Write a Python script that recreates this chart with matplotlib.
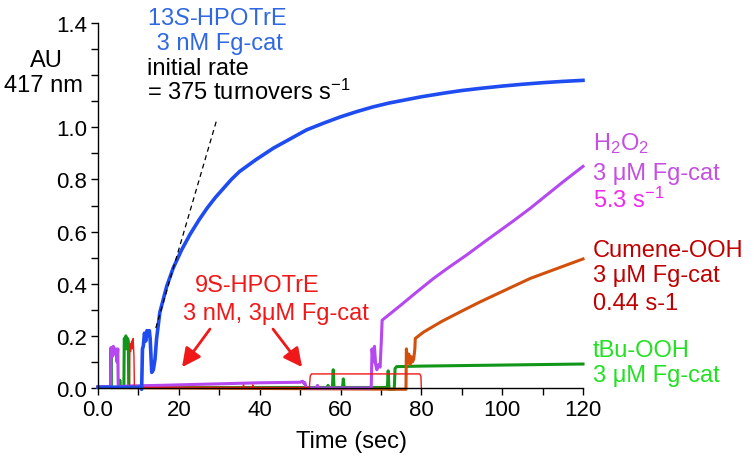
#!/usr/bin/env python
import matplotlib
matplotlib.use('Agg')
import matplotlib.pyplot as plt
from matplotlib.ticker import MultipleLocator

plt.rcParams['font.family'] = ['Liberation Sans', 'DejaVu Sans']
plt.rcParams['mathtext.fontset'] = 'custom'
plt.rcParams['mathtext.rm'] = 'Liberation Sans'
plt.rcParams['mathtext.it'] = 'Liberation Sans:italic'
plt.rcParams['mathtext.bf'] = 'Liberation Sans:bold'

# 13S-HPOTrE, 3 nM Fg-cat
blue_t = [0, 10.6, 10.8, 11.0, 11.2, 11.5, 11.8, 12.1, 12.4, 12.7, 12.9, 13.3, 13.7, 14.1,
          14.5, 15.3, 17.0, 18.6, 20.7, 22.8, 25, 27, 29, 31, 33, 35, 39, 43.4, 47.5,
          51.6, 56, 60, 64, 68, 72, 76, 80, 86, 90, 95, 100, 105, 110, 115, 120]
blue_v = [0.003, 0.003, -0.005, 0.15, 0.16, 0.21, 0.18, 0.22, 0.20, 0.22, 0.19, 0.06, 0.07, 0.11,
          0.19, 0.29, 0.39, 0.46, 0.53, 0.59, 0.645, 0.69, 0.73, 0.765, 0.80, 0.83, 0.875, 0.92,
          0.955, 0.99, 1.017, 1.04, 1.06, 1.078, 1.093, 1.105, 1.117, 1.132, 1.141, 1.15, 1.158,
          1.165, 1.171, 1.176, 1.18]

# H2O2, 3 uM Fg-cat
purple_t = [0, 3.1, 3.2, 3.5, 3.8, 4.1, 4.4, 4.7, 4.9, 5.0, 8, 15, 20, 30, 40, 50, 50.6, 50.9,
            51.2, 51.5, 54, 54.3, 54.6, 67.6, 67.8, 68.1, 68.4, 68.7, 69.0, 69.4, 69.8, 70.1,
            70.3, 74.7, 79, 83, 87, 91.2, 96, 102.7, 107, 111, 115, 120]
purple_v = [0.005, 0.005, 0.155, 0.12, 0.16, 0.13, 0.15, 0.10, 0.15, 0.005, 0.008, 0.01, 0.012,
            0.016, 0.02, 0.022, 0.026, 0.018, 0.02, 0.0, 0.0, 0.01, 0.0, 0.0, 0.15, 0.10, 0.16,
            0.09, 0.07, 0.09, 0.08, 0.18, 0.26, 0.315, 0.37, 0.42, 0.465, 0.51, 0.565, 0.64,
            0.69, 0.74, 0.79, 0.85]

# Cumene-OOH, 3 uM Fg-cat
orange_t = [0, 76.2, 76.3, 76.6, 76.9, 77.2, 77.5, 77.8, 78.1, 78.4, 78.5, 80.5, 85, 90, 94.5,
            100, 106.9, 113, 120]
orange_v = [0.002, -0.005, 0.15, 0.10, 0.13, 0.09, 0.12, 0.10, 0.11, 0.15, 0.19, 0.214, 0.255,
            0.295, 0.33, 0.37, 0.42, 0.455, 0.495]

# tBu-OOH, 3 uM Fg-cat
green_t = [0, 3.1, 3.2, 3.3, 5.3, 5.4, 5.5, 6.4, 6.5, 6.7, 6.9, 7.1, 7.3, 7.5, 7.6, 40, 56.8,
           56.9, 57.0, 58.0, 58.2, 58.4, 60.5, 60.7, 60.9, 71.6, 71.8, 72.0, 73.3, 73.5, 73.9,
           80, 90, 100, 110, 120]
green_v = [0.002, 0.002, 0.15, 0.002, 0.002, 0.03, 0.002, 0.002, 0.19, 0.17, 0.20, 0.15, 0.19,
           0.18, 0.002, 0.002, 0.002, 0.01, 0.002, 0.002, 0.07, 0.002, 0.002, 0.035, 0.002,
           0.002, 0.066, -0.005, -0.005, 0.075, 0.082, 0.084, 0.086, 0.088, 0.09, 0.092]

# 9S-HPOTrE, 3 nM / 3 uM Fg-cat
red_t = [0, 7.8, 7.9, 8.1, 8.3, 8.5, 8.7, 8.9, 9.0, 35.9, 36.0, 36.1, 38.2, 38.3, 38.4, 52.3,
         52.5, 52.8, 79.6, 79.9, 80.0]
red_v = [0.002, 0.002, 0.17, 0.14, 0.18, 0.15, 0.19, 0.12, 0.002, 0.002, 0.012, 0.002, 0.002,
         0.012, 0.002, 0.002, 0.045, 0.054, 0.054, 0.045, 0.0]

# initial-rate tangent
tangent_t = [14.3, 29.4]
tangent_v = [0.23, 1.03]

y_ticks = [0.0, 0.2, 0.4, 0.6, 0.8, 1.0, 1.2, 1.4]
y_ticklabels = ['0.0', '0.2', '0.4', '0.6', '0.8', '1.0', '', '1.4']
x_ticks = [0, 20, 40, 60, 80, 100, 120]
x_ticklabels = ['0.0', '20', '40', '60', '80', '100', '120']

fig = plt.figure(figsize=(7.54, 4.6), dpi=100)
ax = fig.add_axes([98 / 754, 71 / 460, 485 / 754, 365 / 460])

ax.plot(green_t, green_v, color='#12961a', lw=2.2, clip_on=False)
ax.plot(orange_t, orange_v, color='#d2500c', lw=2.2, clip_on=False)
ax.plot(purple_t, purple_v, color='#b548f0', lw=2.2, clip_on=False)
ax.plot(red_t, red_v, color='#f01818', lw=1.0, clip_on=False)
ax.plot(blue_t, blue_v, color='#1f4cf0', lw=2.6, clip_on=False)
ax.plot(tangent_t, tangent_v, color='black', lw=0.9, ls=(0, (4, 3)))

ax.set_xlim(0, 120)
ax.set_ylim(0, 1.4)
ax.set_xticks(x_ticks)
ax.set_xticklabels(x_ticklabels)
ax.set_yticks(y_ticks)
ax.set_yticklabels(y_ticklabels)
ax.xaxis.set_minor_locator(MultipleLocator(10))
ax.yaxis.set_minor_locator(MultipleLocator(0.1))
ax.tick_params(which='both', direction='out', length=5, width=1, labelsize=16, pad=3)
for s in ['top', 'right']:
    ax.spines[s].set_visible(False)
for s in ['left', 'bottom']:
    ax.spines[s].set_linewidth(1)

fs = 17
fig.text(352 / 754, 1 - 448 / 460, 'Time (sec)', ha='center', va='baseline', fontsize=fs)
fig.text(46 / 754, 1 - 67 / 460, 'AU', ha='center', va='baseline', fontsize=fs)
fig.text(43 / 754, 1 - 92 / 460, '417 nm', ha='center', va='baseline', fontsize=fs)

blue_lbl = '#2f68e0'
ax.text(29.4, 1.396, '13$\\mathit{S}$-HPOTrE', color=blue_lbl, ha='center', va='baseline', fontsize=fs, clip_on=False)
ax.text(29.4, 1.300, ' 3 nM Fg-cat', color=blue_lbl, ha='center', va='baseline', fontsize=fs, clip_on=False)
ax.text(12.1, 1.204, 'initial rate', color='black', ha='left', va='baseline', fontsize=fs)
ax.text(12.1, 1.109, '= 375 turnovers s$^{-1}$', color='black', ha='left', va='baseline', fontsize=fs)

red_lbl = '#f01818'
ax.text(39.3, 0.372, '9S-HPOTrE', color=red_lbl, ha='center', va='baseline', fontsize=fs)
ax.text(44.0, 0.265, '3 nM, 3\u03bcM Fg-cat', color=red_lbl, ha='center', va='baseline', fontsize=fs)
for tail, head in [((27.7, 0.226), (20.8, 0.08)), ((43.3, 0.226), (50.5, 0.08))]:
    ax.annotate('', xy=head, xytext=tail,
                arrowprops=dict(arrowstyle='-|>', color=red_lbl, lw=2.0, mutation_scale=28,
                                shrinkA=0, shrinkB=0))

xl = 122.5
ax.text(xl, 0.917, 'H$_2$O$_2$', color='#c44fe0', ha='left', va='baseline', fontsize=fs, clip_on=False)
ax.text(xl, 0.800, '3 \u03bcM Fg-cat', color='#c44fe0', ha='left', va='baseline', fontsize=fs, clip_on=False)
ax.text(xl, 0.694, '5.3 s$^{-1}$', color='#f028f0', ha='left', va='baseline', fontsize=fs, clip_on=False)

ax.text(xl, 0.507, 'Cumene-OOH', color='#c00000', ha='left', va='baseline', fontsize=fs, clip_on=False)
ax.text(xl, 0.410, '3 \u03bcM Fg-cat', color='#c00000', ha='left', va='baseline', fontsize=fs, clip_on=False)
ax.text(xl, 0.303, '0.44 s-1', color='#c00000', ha='left', va='baseline', fontsize=fs, clip_on=False)

ax.text(xl, 0.123, 'tBu-OOH', color='#22e022', ha='left', va='baseline', fontsize=fs, clip_on=False)
ax.text(xl, 0.027, '3 \u03bcM Fg-cat', color='#22e022', ha='left', va='baseline', fontsize=fs, clip_on=False)

fig.savefig('out.png', dpi=100)
